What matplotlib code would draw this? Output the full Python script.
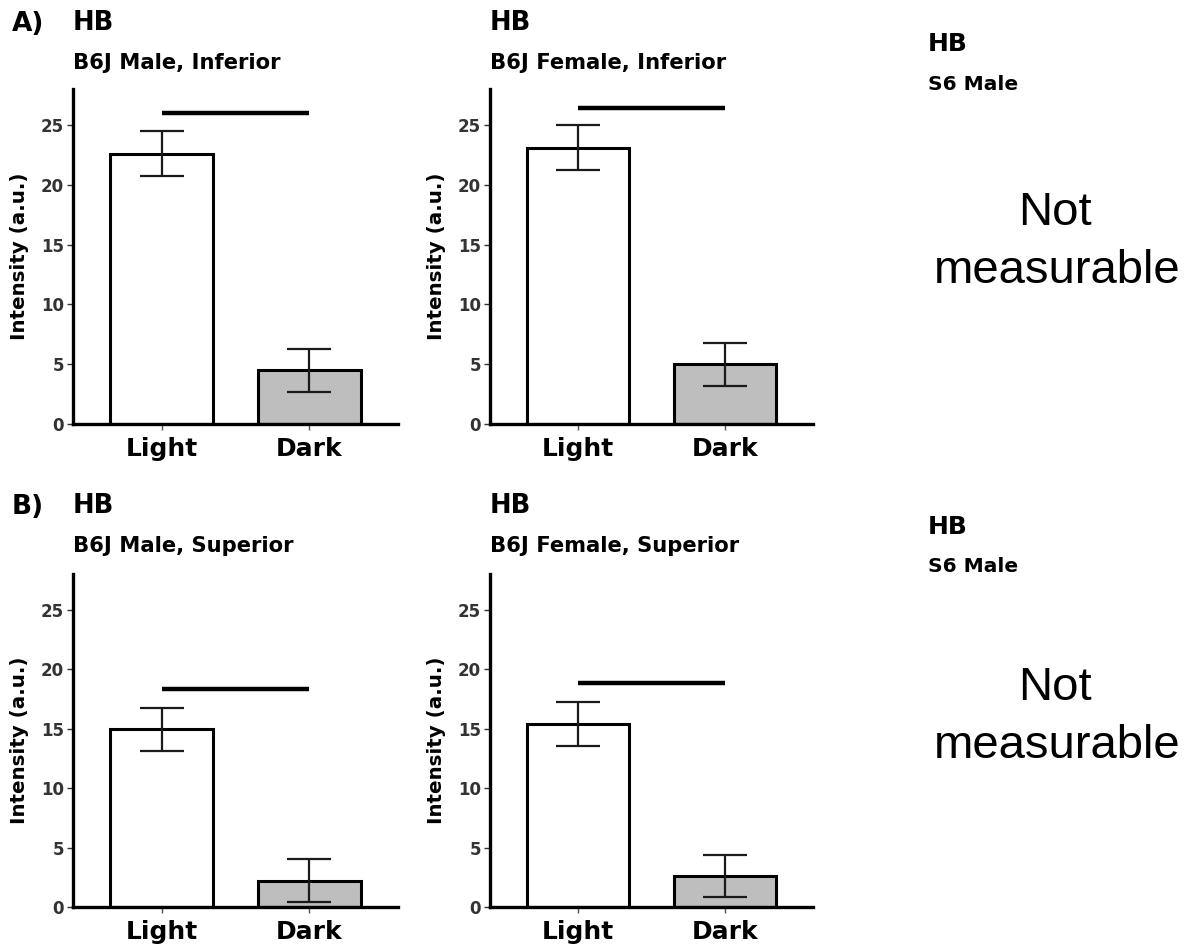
import numpy as np
import matplotlib
matplotlib.use("Agg")
import matplotlib.pyplot as plt

categories = ["Light", "Dark"]

# mean intensity and error for each panel (Light, Dark)
male_inf = [22.6, 4.5]
male_inf_err = [1.85, 1.8]
female_inf = [23.1, 5.0]
female_inf_err = [1.85, 1.8]
male_sup = [14.95, 2.2]
male_sup_err = [1.8, 1.8]
female_sup = [15.4, 2.6]
female_sup_err = [1.85, 1.8]

# height of the significance line in each panel
sig_y = [26.0, 26.4, 18.3, 18.8]

subtitles = ["B6J Male, Inferior", "B6J Female, Inferior",
             "B6J Male, Superior", "B6J Female, Superior"]

bold = "DejaVu Sans"
regular = "Liberation Sans"

fig = plt.figure(figsize=(11.91, 9.5), dpi=100)

W, H = 1191, 950
def add_ax(left_px, top_px, right_px, bottom_px):
    return fig.add_axes([left_px / W, 1 - bottom_px / H,
                         (right_px - left_px) / W, (bottom_px - top_px) / H])

axes = [add_ax(73, 89, 398, 424), add_ax(490, 89, 813, 424),
        add_ax(73, 574, 398, 907), add_ax(490, 574, 813, 907)]
means = [male_inf, female_inf, male_sup, female_sup]
errs = [male_inf_err, female_inf_err, male_sup_err, female_sup_err]

x = np.arange(1, len(categories) + 1)
for i, ax in enumerate(axes):
    ax.bar(x, means[i], width=0.7, color=["white", "#BEBEBE"],
           edgecolor="black", linewidth=2.2, zorder=2)
    ax.errorbar(x, means[i], yerr=errs[i], fmt="none", ecolor="#1a1a1a",
                elinewidth=1.6, capsize=16, capthick=1.6, zorder=3)
    ax.plot([x[0], x[1]], [sig_y[i], sig_y[i]], color="black",
            linewidth=3.2, solid_capstyle="butt", zorder=3)
    ax.set_xlim(0.4, 2.6)
    ax.set_ylim(0, 28)
    ax.set_xticks(x)
    ax.set_xticklabels(categories, fontsize=18, fontweight="bold",
                       family=bold, color="black")
    ax.set_yticks([0, 5, 10, 15, 20, 25])
    for lab in ax.get_yticklabels():
        lab.set_fontsize(12)
        lab.set_fontweight("bold")
        lab.set_family(bold)
        lab.set_color("#333333")
    ax.tick_params(axis="y", length=4.5, width=1.0, color="#333333", pad=2)
    ax.tick_params(axis="x", length=4.5, width=1.0, color="#555555", pad=5)
    for s in ["top", "right"]:
        ax.spines[s].set_visible(False)
    for s in ["left", "bottom"]:
        ax.spines[s].set_linewidth(2.4)
        ax.spines[s].set_color("black")
    ax.set_ylabel("Intensity (a.u.)", fontsize=14.3, fontweight="bold",
                  family=bold)
    ax.yaxis.set_label_coords(-0.135, 0.5)

# panel headings
fig.text(12 / W, 1 - 24 / H, "A)", fontsize=19, fontweight="bold",
         family=bold, va="center", ha="left")
fig.text(12 / W, 1 - 507 / H, "B)", fontsize=19, fontweight="bold",
         family=bold, va="center", ha="left")

head_pos = [(73, 23, 63), (490, 23, 63), (73, 506, 546), (490, 506, 546)]
for (px, hy, sy), sub in zip(head_pos, subtitles):
    fig.text(px / W, 1 - hy / H, "HB", fontsize=18.5, fontweight="bold",
             family=bold, va="center", ha="left")
    fig.text(px / W, 1 - sy / H, sub, fontsize=15.2, fontweight="bold",
             family=bold, va="center", ha="left")

# S6 Male column
for hy, sy, ny, my in [(44, 85, 213, 271), (527, 567, 688, 746)]:
    fig.text(928 / W, 1 - hy / H, "HB", fontsize=18, fontweight="bold",
             family=bold, va="center", ha="left")
    fig.text(928 / W, 1 - sy / H, "S6 Male", fontsize=14.5, fontweight="bold",
             family=bold, va="center", ha="left")
    fig.text(1055 / W, 1 - ny / H, "Not", fontsize=34, family=regular,
             va="center", ha="center")
    fig.text(1057 / W, 1 - my / H, "measurable", fontsize=34, family=regular,
             va="center", ha="center")

fig.savefig("out.png", dpi=100)
